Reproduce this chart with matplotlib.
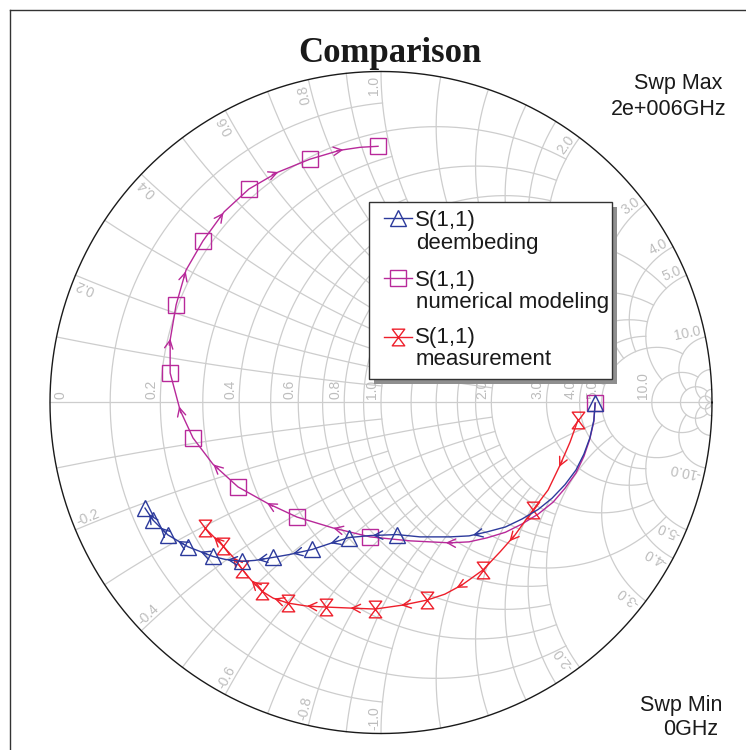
import numpy as np
import matplotlib.pyplot as plt
from matplotlib.path import Path
from matplotlib.patches import Rectangle
from matplotlib.lines import Line2D

plt.rcParams['font.family'] = ['Liberation Sans', 'DejaVu Sans']

deemb_re = [0.647, 0.643, 0.631, 0.613, 0.589, 0.556, 0.517, 0.475, 0.426, 0.376, 0.320, 0.266, 0.208, 0.118,
            0.048, -0.033, -0.097, -0.154, -0.208, -0.275, -0.326, -0.381, -0.420, -0.471, -0.508, -0.583,
            -0.644, -0.689, -0.713]
deemb_im = [-0.002, -0.054, -0.107, -0.156, -0.204, -0.248, -0.289, -0.323, -0.352, -0.376, -0.391, -0.403,
            -0.406, -0.406, -0.399, -0.402, -0.408, -0.426, -0.444, -0.459, -0.468, -0.477, -0.480, -0.474,
            -0.465, -0.436, -0.400, -0.355, -0.319]
deemb_marks = [0, 14, 16, 18, 20, 22, 24, 25, 26, 27, 28]

model_re = [0.647, 0.643, 0.631, 0.613, 0.589, 0.556, 0.520, 0.475, 0.426, 0.376, 0.320, 0.266, 0.208, 0.088,
            -0.033, -0.145, -0.254, -0.344, -0.432, -0.508, -0.568, -0.607, -0.637, -0.637, -0.619, -0.589,
            -0.538, -0.474, -0.399, -0.311, -0.215, -0.124, -0.063, -0.009]
model_im = [-0.002, -0.057, -0.110, -0.163, -0.213, -0.259, -0.301, -0.337, -0.367, -0.392, -0.409, -0.421,
            -0.424, -0.418, -0.406, -0.379, -0.346, -0.304, -0.255, -0.186, -0.107, -0.023, 0.089, 0.189,
            0.295, 0.400, 0.488, 0.576, 0.645, 0.696, 0.735, 0.762, 0.771, 0.774]
model_marks = [0, 14, 16, 18, 20, 22, 24, 26, 28, 30, 33]

meas_re = [0.595, 0.571, 0.541, 0.505, 0.459, 0.405, 0.360, 0.308, 0.245, 0.193, 0.139, 0.066, -0.018, -0.094,
           -0.166, -0.224, -0.281, -0.326, -0.360, -0.393, -0.420, -0.447, -0.477, -0.508, -0.532]
meas_im = [-0.053, -0.120, -0.189, -0.264, -0.325, -0.400, -0.451, -0.506, -0.551, -0.579, -0.597, -0.612, -0.624,
           -0.621, -0.618, -0.615, -0.606, -0.591, -0.570, -0.536, -0.503, -0.467, -0.434, -0.403, -0.379]
meas_marks = [0, 4, 7, 10, 12, 14, 16, 18, 20, 22, 24]

# smith grid: value, how far the line runs in the other coordinate
grid_lines = [(0.1, 1), (0.2, 2), (0.3, 1), (0.4, 2), (0.5, 1), (0.6, 2), (0.7, 1), (0.8, 2), (0.9, 1),
              (1.0, 5), (1.2, 2), (1.4, 2), (1.6, 2), (1.8, 2), (2.0, 5), (3.0, 5), (4.0, 5),
              (5.0, 10), (10.0, 20), (20.0, 50), (50.0, np.inf)]
grid_labels = [0.2, 0.4, 0.6, 0.8, 1.0, 2.0, 3.0, 4.0, 5.0, 10.0]

W, H = 746, 750
cx, cy, R = 381.0, 402.5, 331.0

blue = '#2c3a9c'
magenta = '#b8299a'
red = '#ee1f2b'
gridc = '#cdcdcd'
labc = '#bdbdbd'


def gam(z):
    return (z - 1) / (z + 1)


def F(px, py):
    return px / W, 1 - py / H


hourglass = Path([(-0.75, 1), (0.75, 1), (-0.75, -1), (0.75, -1), (-0.75, 1)],
                 [Path.MOVETO, Path.LINETO, Path.LINETO, Path.LINETO, Path.CLOSEPOLY])

fig = plt.figure(figsize=(W / 100, H / 100), dpi=100)
ax = fig.add_axes([0, 0, 1, 1])
ax.set_xlim(-cx / R, (W - cx) / R)
ax.set_ylim(-(H - cy) / R, cy / R)
ax.axis('off')

# frame
fig.add_artist(Line2D([10 / W, 1], [1 - 10 / H, 1 - 10 / H], color='#333333', lw=1.0))
fig.add_artist(Line2D([10 / W, 10 / W], [0, 1 - 10 / H], color='#333333', lw=1.0))

# grid
for v, lim in grid_lines:
    t = np.tan(np.linspace(-np.arctan(lim), np.arctan(lim), 400))
    g = gam(v + 1j * t)
    ax.plot(g.real, g.imag, color=gridc, lw=0.9, zorder=1)
    s = np.tan(np.linspace(0, np.arctan(lim), 400))
    for sg in (1, -1):
        g = gam(s + 1j * sg * v)
        ax.plot(g.real, g.imag, color=gridc, lw=0.9, zorder=1)
ax.plot([-1, 1], [0, 0], color=gridc, lw=0.9, zorder=1)
th = np.linspace(0, 2 * np.pi, 721)
ax.plot(np.cos(th), np.sin(th), color='#1a1a1a', lw=1.0, zorder=2)

# grid labels
lab_kw = dict(color=labc, fontsize=10, rotation_mode='anchor', zorder=1.5)
ax.text(-0.947, 0.01, '0', rotation=90, ha='left', va='bottom', **lab_kw)
for v in grid_labels:
    gx = (v - 1) / (v + 1)
    ax.text(gx - 0.006, 0.01, '%.1f' % v, rotation=90, ha='left', va='bottom', **lab_kw)
    for sg in (1, -1):
        e = gam(1j * sg * v)
        ang = np.degrees(np.angle(e))
        p = 0.988 * e
        if sg > 0:
            ax.text(p.real, p.imag, '%.1f' % v, rotation=ang, ha='right', va='bottom', **lab_kw)
        else:
            ax.text(p.real, p.imag, '%.1f' % (-v), rotation=ang + 180, ha='left', va='bottom', **lab_kw)


def trace(re, im, marks, color, marker, ms, first=0.5):
    re = np.array(re)
    im = np.array(im)
    ax.plot(re, im, color=color, lw=1.0, marker=marker, ms=ms, mfc='none', mec=color, mew=1.0,
            markevery=marks, zorder=3)
    g = re + 1j * im
    for n, (a, b) in enumerate(zip(marks[:-1], marks[1:])):
        seg = g[a:b + 1]
        s = np.concatenate([[0], np.cumsum(np.abs(np.diff(seg)))])
        h = s[-1] * (first if n == 0 else 0.5)
        p = np.interp(h, s, seg.real) + 1j * np.interp(h, s, seg.imag)
        k = int(np.clip(np.searchsorted(s, h), 1, len(seg) - 1))
        u = seg[k] - seg[k - 1]
        u = u / abs(u)
        q = p - 0.02 * u
        ax.annotate('', xy=(p.real, p.imag), xytext=(q.real, q.imag), zorder=3,
                    arrowprops=dict(arrowstyle='->,head_length=0.6,head_width=0.3', color=color,
                                    lw=1.0, shrinkA=0, shrinkB=0))


trace(model_re, model_im, model_marks, magenta, 's', 11.5, first=0.75)
trace(meas_re, meas_im, meas_marks, red, hourglass, 12)
trace(deemb_re, deemb_im, deemb_marks, blue, '^', 11, first=0.72)

# texts
fig.text(*F(390, 62), 'Comparison', family=['Liberation Serif', 'DejaVu Serif'], weight='bold',
         fontsize=25, ha='center', va='baseline', color='#1a1a1a')
fig.text(*F(722, 89), 'Swp Max', fontsize=15.5, ha='right', va='baseline', color='#1a1a1a')
fig.text(*F(727, 115), '2e+006GHz', fontsize=15.5, ha='right', va='baseline', color='#1a1a1a')
fig.text(*F(722, 711), 'Swp Min', fontsize=15.5, ha='right', va='baseline', color='#1a1a1a')
fig.text(*F(718, 735), '0GHz', fontsize=15.5, ha='right', va='baseline', color='#1a1a1a')

# legend
x0, y0, x1, y1 = 369, 202, 612, 379
fig.add_artist(Rectangle(F(x0 + 5, y1 + 5), (x1 - x0) / W, (y1 - y0) / H, facecolor='#8f8f8f',
                         edgecolor='none', zorder=6))
fig.add_artist(Rectangle(F(x0, y1), (x1 - x0) / W, (y1 - y0) / H, facecolor='white',
                         edgecolor='#333333', lw=1.0, zorder=7))
entries = [(blue, '^', 11, 218, 226, 'deembeding', 249),
           (magenta, 's', 11.5, 278, 286, 'numerical modeling', 308),
           (red, hourglass, 12, 337, 343, 'measurement', 365)]
for color, mk, ms, ym, yb, name, yb2 in entries:
    fig.add_artist(Line2D([384 / W, 412 / W], [1 - ym / H] * 2, color=color, lw=1.0, zorder=8))
    fig.add_artist(Line2D([398 / W], [1 - ym / H], marker=mk, ms=ms, mfc='none', mec=color, mew=1.0,
                          zorder=8))
    fig.text(*F(415, yb), 'S(1,1)', fontsize=16, va='baseline', color='#1a1a1a', zorder=8)
    fig.text(*F(416, yb2), name, fontsize=16, va='baseline', color='#1a1a1a', zorder=8)

fig.savefig('out.png', dpi=100)
